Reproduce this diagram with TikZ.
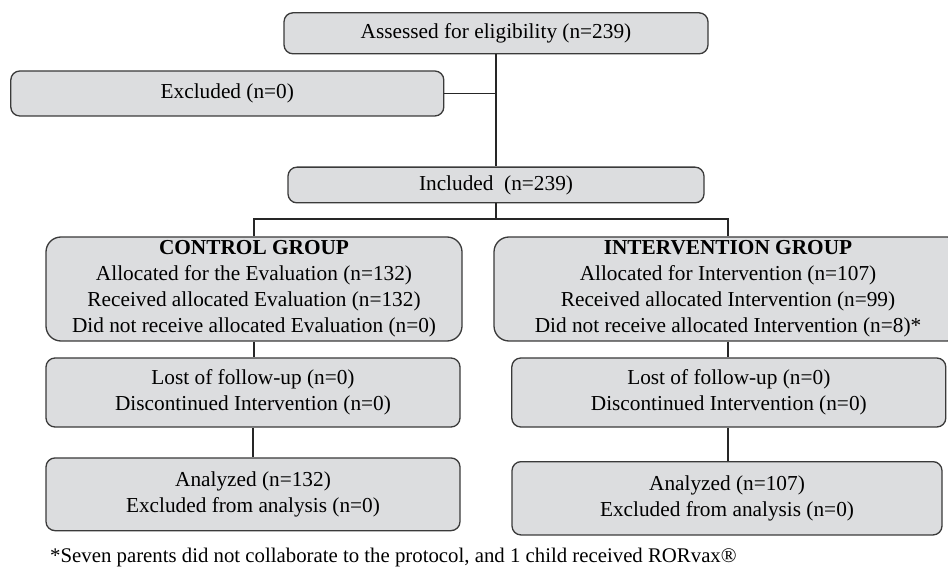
\documentclass[tikz,border=0pt]{standalone}
\usepackage{fontspec}
\setmainfont{Liberation Serif}
\definecolor{boxfill}{HTML}{DCDDDF}
\definecolor{boxline}{HTML}{3A3A3A}
\begin{document}
\begin{tikzpicture}[x=1pt,y=-1pt,
  box/.style={draw=boxline, fill=boxfill, line width=1.3pt, rounded corners=9pt,
    align=center, inner sep=0pt, font=\fontsize{21.3}{26}\selectfont},
  bigbox/.style={box, rounded corners=15pt},
  conn/.style={draw=black!85, line width=1.6pt}]
\useasboundingbox (0,0) rectangle (948,569);
\clip (0,0) rectangle (948,569);

\node[box, minimum width=424pt, minimum height=41pt] (assess) at (496,33.3) {Assessed for eligibility (n=239)};
\node[box, minimum width=433pt, minimum height=45pt] (excl) at (227.3,93.5) {Excluded (n=0)};
\node[box, minimum width=416pt, minimum height=35.7pt] (incl) at (496,185) {Included\ \ (n=239)};

\node[bigbox, minimum width=416pt, minimum height=104pt] (ctrl) at (254,289)
  {\textbf{CONTROL GROUP}\\Allocated for the Evaluation (n=132)\\Received allocated Evaluation (n=132)\\Did not receive allocated Evaluation (n=0)};
\node[bigbox, minimum width=468pt, minimum height=104pt] (intv) at (728,289)
  {\textbf{INTERVENTION GROUP}\\Allocated for Intervention (n=107)\\Received allocated Intervention (n=99)\\Did not receive allocated Intervention (n=8)*};

\node[box, minimum width=414pt, minimum height=69pt] (cfu) at (253,392.5)
  {Lost of follow-up (n=0)\\Discontinued Intervention (n=0)};
\node[box, minimum width=414pt, minimum height=72.7pt] (cana) at (253,494.3)
  {Analyzed (n=132)\\Excluded from analysis (n=0)};
\node[box, minimum width=434pt, minimum height=69pt] (ifu) at (728.8,392.5)
  {Lost of follow-up (n=0)\\Discontinued Intervention (n=0)};
\node[box, minimum width=430pt, minimum height=73.3pt] (iana) at (727,498.3)
  {Analyzed (n=107)\\Excluded from analysis (n=0)};

\node[anchor=base west, inner sep=0pt, font=\fontsize{20.8}{26}\selectfont] (note) at (50,562)
  {*Seven parents did not collaborate to the protocol, and 1 child received RORvax®};

\coordinate (branch) at (496,219.3);
\draw[conn] (assess.south) -- (incl.north);
\draw[conn] (excl.east) -- (excl.east -| assess.south);
\draw[conn] (incl.south) -- (branch);
\draw[conn] (ctrl.north) -- (ctrl.north |- branch) -- (intv.north |- branch) -- (intv.north);
\draw[conn] (ctrl.south) -- (ctrl.south |- cfu.north);
\draw[conn] (cfu.south) -- (cfu.south |- cana.north);
\draw[conn] (intv.south) -- (intv.south |- ifu.north);
\draw[conn] (ifu.south -| intv.south) -- (intv.south |- iana.north);
\end{tikzpicture}
\end{document}
